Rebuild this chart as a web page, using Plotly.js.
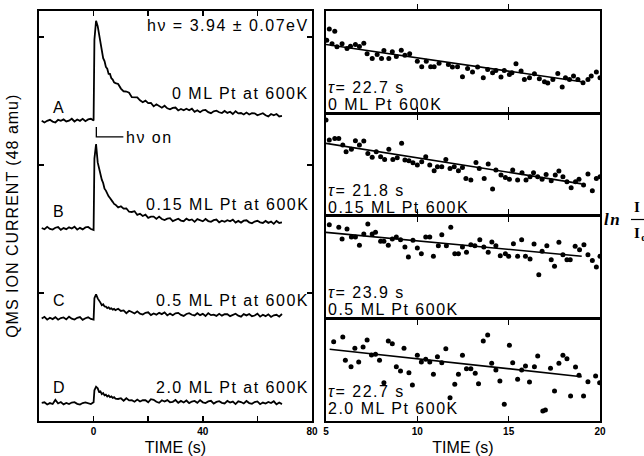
<!DOCTYPE html>
<html>
<head>
<meta charset="utf-8">
<script src="https://cdn.plot.ly/plotly-3.0.1.min.js"></script>
<style>
html,body{margin:0;padding:0;background:#fff;}
.annotation-text{letter-spacing:1.5px;}
.ytitle{letter-spacing:1px;}
</style>
</head>
<body>
<div id="chart" style="width:644px;height:456px;"></div>
<script>
// ---------- Left panel: QMS ion current (48 amu) vs time ----------
const timeLeft = [-19,-18,-17,-16,-15,-14,-13,-12,-11,-10,-9,-8,-7,-6,-5,-4,-3,-2,-1,0,
  0.3,0.9,1.5,2,2.5,3,3.5,4,4.5,5,5.5,6,6.5,7,7.5,8,
  9,10,11,12,13,14,15,16,17,18,19,20,21,22,23,24,25,26,27,28,29,30,31,32,33,34,35,36,37,38,39,
  40,41,42,43,44,45,46,47,48,49,50,51,52,53,54,55,56,57,58,59,60,61,62,63,64,65,66,67,68,69];

const currentA = [2.346,2.332,2.345,2.353,2.339,2.332,2.353,2.345,2.356,2.340,2.346,2.361,2.340,2.355,2.345,2.361,2.342,2.356,2.361,2.347,
  2.980,3.127,3.085,3.028,2.945,2.915,2.835,2.812,2.766,2.752,2.712,2.712,2.678,2.668,2.646,2.640,
  2.633,2.597,2.576,2.574,2.565,2.530,2.531,2.528,2.505,2.490,2.503,2.483,2.484,2.458,2.474,2.463,2.448,2.463,2.443,2.435,2.446,2.449,2.426,2.437,2.427,2.439,2.428,2.440,2.415,2.427,2.413,
  2.427,2.430,2.413,2.405,2.419,2.424,2.412,2.406,2.422,2.407,2.416,2.398,2.420,2.403,2.406,2.395,2.410,2.395,2.405,2.404,2.388,2.399,2.405,2.389,2.380,2.398,2.388,2.398,2.379,2.383];

const currentB = [1.508,1.498,1.517,1.501,1.496,1.510,1.515,1.494,1.507,1.499,1.513,1.504,1.518,1.495,1.509,1.497,1.512,1.516,1.500,1.493,
  2.050,2.164,2.020,1.970,1.925,1.885,1.860,1.815,1.800,1.772,1.755,1.742,1.722,1.712,1.696,1.690,
  1.668,1.678,1.659,1.660,1.635,1.633,1.639,1.610,1.619,1.602,1.612,1.587,1.596,1.597,1.579,1.597,1.578,1.570,1.581,1.585,1.562,1.574,1.580,1.566,1.561,1.581,1.568,1.575,1.556,1.577,1.570,
  1.560,1.578,1.562,1.556,1.569,1.574,1.552,1.565,1.556,1.569,1.560,1.573,1.550,1.563,1.550,1.565,1.568,1.552,1.544,1.558,1.564,1.552,1.547,1.563,1.548,1.558,1.540,1.563,1.547,1.551];

const currentC = [0.800,0.814,0.792,0.807,0.796,0.811,0.791,0.804,0.809,0.794,0.815,0.799,0.793,0.806,0.812,0.790,0.803,0.810,0.797,0.792,
  0.960,0.990,0.958,0.935,0.925,0.905,0.912,0.895,0.893,0.882,0.888,0.876,0.880,0.870,0.876,0.866,
  0.877,0.860,0.864,0.842,0.861,0.852,0.840,0.857,0.839,0.832,0.845,0.849,0.827,0.840,0.831,0.845,0.835,0.849,0.825,0.839,0.826,0.841,0.845,0.829,0.821,0.836,0.842,0.830,0.825,0.842,0.827,
  0.837,0.820,0.842,0.827,0.831,0.821,0.837,0.823,0.834,0.834,0.819,0.831,0.838,0.823,0.815,0.835,0.825,0.836,0.819,0.824,0.838,0.815,0.830,0.819,0.833,0.813,0.826,0.830,0.815,0.836];

const currentD = [0.142,0.146,0.129,0.140,0.133,0.165,0.137,0.148,0.130,0.141,0.132,0.144,0.147,0.134,0.128,0.140,0.145,0.136,0.132,0.146,
  0.240,0.268,0.255,0.228,0.232,0.210,0.218,0.200,0.206,0.192,0.199,0.186,0.192,0.180,0.186,0.175,
  0.172,0.178,0.158,0.178,0.161,0.163,0.151,0.167,0.152,0.162,0.162,0.146,0.170,0.166,0.150,0.142,0.162,0.152,0.163,0.146,0.150,0.164,0.142,0.157,0.145,0.160,0.140,0.152,0.157,0.142,0.163,
  0.146,0.140,0.153,0.158,0.136,0.149,0.155,0.142,0.137,0.157,0.144,0.152,0.132,0.154,0.148,0.137,0.156,0.140,0.134,0.148,0.153,0.131,0.144,0.136,0.149,0.140,0.154,0.130,0.144,0.132];

const traceLetters = ["A","B","C","D"];
const leftLabels = ["0 ML Pt at 600K","0.15 ML Pt at 600K","0.5 ML Pt at 600K","2.0 ML Pt at 600K"];
const leftTickVals = [0,40,80];
const leftMinorTickVals = [-20,20,60];

// ---------- Right panels: ln(I/I0) vs time ----------
const time1 = [5.04,5.18,5.33,5.48,5.60,5.88,6.15,6.34,6.61,6.83,7.07,7.25,7.53,7.80,8.04,8.17,8.44,8.63,8.85,9.12,9.32,9.58,10.00,10.24,10.49,10.73,10.92,11.19,11.70,11.92,12.20,12.47,12.75,13.02,13.30,13.61,13.85,14.12,14.30,14.58,14.76,15.04,15.18,15.40,15.68,15.86,16.14,16.41,16.68,16.96,17.14,17.42,17.69,17.93,18.11,18.33,18.55,18.79,19.07,19.34,19.52,19.80,20.0];
const lnRatio1 = [0.071,0.258,0.011,0.220,-0.038,0.011,-0.066,-0.027,0.0,-0.033,0.022,-0.154,-0.231,-0.165,-0.231,-0.099,-0.231,-0.121,-0.198,-0.093,-0.176,-0.154,-0.275,-0.368,-0.275,-0.368,-0.368,-0.308,-0.330,-0.374,-0.368,-0.533,-0.396,-0.456,-0.374,-0.549,-0.412,-0.467,-0.429,-0.538,-0.429,-0.495,-0.467,-0.319,-0.440,-0.577,-0.549,-0.484,-0.566,-0.615,-0.637,-0.577,-0.478,-0.703,-0.549,-0.577,-0.522,-0.577,-0.632,-0.577,-0.522,-0.456,-0.549];

const time2 = [5.0,5.18,5.48,5.70,5.92,6.10,6.39,6.61,6.83,7.07,7.29,7.53,7.75,7.99,8.21,8.44,8.66,8.90,9.14,9.32,9.54,9.76,10.0,10.24,10.46,10.68,10.92,11.10,11.34,11.56,11.79,12.02,12.25,12.47,12.66,12.93,13.21,13.39,13.66,13.88,14.12,14.30,14.58,14.82,15.04,15.22,15.49,15.73,15.95,16.17,16.36,16.59,16.83,17.05,17.33,17.55,17.75,17.97,18.19,18.42,18.66,18.85,19.10,19.34,19.58,19.80,20.0];
const lnRatio2 = [0.370,0.053,0.079,0.079,-0.026,-0.132,-0.095,0.042,-0.026,0.037,-0.159,-0.222,-0.132,-0.212,-0.254,-0.095,-0.254,-0.228,0.0,-0.265,-0.275,-0.307,-0.344,-0.291,-0.212,-0.344,-0.434,-0.370,-0.370,-0.254,-0.397,-0.370,-0.434,-0.381,-0.556,-0.582,-0.302,-0.397,-0.556,-0.328,-0.725,-0.423,-0.503,-0.540,-0.571,-0.423,-0.582,-0.466,-0.582,-0.529,-0.466,-0.529,-0.571,-0.492,-0.593,-0.503,-0.439,-0.529,-0.608,-0.704,-0.608,-0.571,-0.661,-0.487,-0.751,-0.556,-0.529];

const time3 = [5.18,5.70,5.88,6.15,6.39,6.61,6.83,7.07,7.29,7.53,7.71,7.99,8.17,8.41,8.63,8.85,9.08,9.32,9.51,9.76,10.0,10.22,10.46,10.68,10.88,11.15,11.34,11.59,11.83,12.05,12.25,12.47,12.69,12.93,13.15,13.42,13.64,13.88,14.08,14.30,14.54,14.82,15.0,15.26,15.49,15.71,15.92,16.17,16.39,16.65,16.83,17.09,17.33,17.51,17.75,17.97,18.19,18.37,18.64,18.88,19.12,19.34,19.58,19.80,20.0];
const lnRatio3 = [0.189,0.123,-0.164,0.082,-0.115,-0.115,-0.320,-0.041,0.205,-0.041,0.0,-0.221,-0.221,-0.320,-0.164,-0.115,-0.180,-0.361,-0.607,-0.197,-0.385,-0.525,-0.115,-0.115,-0.590,-0.328,-0.057,-0.328,0.123,-0.525,-0.525,-0.361,-0.492,-0.303,-0.328,-0.180,-0.361,-0.492,-0.238,-0.328,-0.574,-0.525,-0.590,-0.279,-0.590,-0.180,-0.590,-0.656,-0.287,-1.041,-0.467,-0.328,-0.672,-0.836,-0.246,-0.549,-0.672,-0.672,-0.344,-0.426,-0.303,-0.549,-0.689,-0.852,-0.590];

const time4 = [5.42,5.92,6.06,6.37,6.58,6.79,7.03,7.25,7.49,7.71,7.93,8.17,8.41,8.63,8.85,9.08,9.27,9.54,9.73,10.0,10.22,10.46,10.68,10.88,11.10,11.34,11.56,11.79,12.05,12.25,12.47,12.69,12.93,13.17,13.35,13.61,13.85,14.07,14.30,14.52,14.76,15.04,15.22,15.49,15.71,15.92,16.14,16.41,16.59,16.87,17.01,17.29,17.51,17.75,17.97,18.19,18.39,18.66,18.85,19.10,19.34,19.76,19.98];
const lnRatio4 = [0.170,0.274,-0.244,-0.385,0.022,-0.281,0.052,0.207,-0.126,-0.111,-0.244,-0.741,0.185,0.126,-0.385,-0.481,0.022,-0.519,-0.793,-0.133,-0.281,-0.222,-0.281,-0.556,-0.163,-0.296,0.015,-1.074,-0.778,-0.556,-0.133,-0.430,-0.430,-0.533,-0.763,0.185,0.319,-0.311,-0.459,-0.704,-1.222,0.089,-0.296,-0.667,-0.459,-0.370,-0.726,-0.385,-0.148,-1.370,-1.348,-0.422,-0.926,-0.311,-0.133,-0.207,-1.037,-0.393,-0.578,-1.037,-0.719,-0.593,-0.741];

// linear fits (tau values)
const tauValues = [22.7, 21.8, 23.9, 22.7];
const fitTime = [[5,19],[5,19],[5,19],[5.2,19]];
const fitLn = [[0,-0.617],[0,-0.642],[0,-0.586],[0,-0.608]];
const rightLabels = ["0 ML Pt 600K","0.15 ML Pt 600K","0.5 ML Pt 600K","2.0 ML Pt 600K"];
const rightTickVals = [5,10,15,20];

// ---------- Build figure ----------
const W = 644, H = 456;
const px = v => v / W;
const py = v => 1 - v / H;
const FONT = "Liberation Sans, Arial, sans-serif";

const traces = [];
[currentA, currentB, currentC, currentD].forEach(ys => {
  traces.push({x: timeLeft, y: ys, type: "scatter", mode: "lines",
    line: {color: "#000", width: 1.8}, xaxis: "x", yaxis: "y", hoverinfo: "skip"});
});
const rTimes = [time1, time2, time3, time4];
const rLn = [lnRatio1, lnRatio2, lnRatio3, lnRatio4];
for (let i = 0; i < 4; i++) {
  const ya = "y" + (i + 2);
  traces.push({x: rTimes[i], y: rLn[i], type: "scatter", mode: "markers",
    marker: {color: "#000", size: 5}, xaxis: "x2", yaxis: ya, hoverinfo: "skip"});
  traces.push({x: fitTime[i], y: fitLn[i], type: "scatter", mode: "lines",
    line: {color: "#000", width: 1.6}, xaxis: "x2", yaxis: ya, hoverinfo: "skip"});
}

const axisCommon = {showline: true, linecolor: "#000", linewidth: 2, showgrid: false, zeroline: false,
  ticks: "inside", ticklen: 5, tickwidth: 1.5, tickcolor: "#000"};

// right subpanel geometry (pixels)
const rTop = [10.5, 113.1, 215.75, 318.4];
const rBot = [113.1, 215.75, 318.4, 421];
const rRanges = [[-1.135, 0.563], [-1.148, 0.48], [-2.115, 0.408], [-1.593, 0.687]];

const layout = {
  width: W, height: H, margin: {l: 0, r: 0, t: 0, b: 0},
  paper_bgcolor: "#fff", plot_bgcolor: "#fff", showlegend: false,
  font: {family: FONT, color: "#000", size: 14},
  xaxis: Object.assign({}, axisCommon, {
    domain: [px(39), px(312)], range: [-20, 80], anchor: "y",
    tickmode: "array", tickvals: leftTickVals,
    minor: {tickmode: "array", tickvals: leftMinorTickVals, ticks: "inside", ticklen: 5, tickwidth: 1.5, tickcolor: "#000", showgrid: false},
    mirror: "allticks", tickfont: {family: FONT, size: 10, weight: "bold"},
    title: {text: "TIME (s)", font: {family: FONT, size: 16}, standoff: 8}
  }),
  yaxis: Object.assign({}, axisCommon, {
    domain: [py(421), py(10.5)], range: [0, 3.207], anchor: "x",
    tickmode: "array", tickvals: [0, 1, 2, 3], showticklabels: false, mirror: "allticks",
    title: {text: "QMS ION CURRENT (48 amu)", font: {family: FONT, size: 16}, standoff: 14}
  }),
  xaxis2: Object.assign({}, axisCommon, {
    domain: [px(326), px(600)], range: [5, 20], anchor: "y5", linewidth: 1.6,
    tickmode: "array", tickvals: rightTickVals, mirror: "allticks",
    tickfont: {family: FONT, size: 10, weight: "bold"},
    title: {text: "TIME (s)", font: {family: FONT, size: 16}, standoff: 8}
  }),
  annotations: [], shapes: []
};
for (let i = 0; i < 4; i++) {
  layout["yaxis" + (i + 2)] = {showline: true, linecolor: "#000", linewidth: 2, mirror: true,
    showgrid: false, zeroline: false, ticks: "", showticklabels: false,
    domain: [py(rBot[i]), py(rTop[i])], range: rRanges[i], anchor: "x2"};
}

function ann(text, x, y, xanchor, size, extra) {
  layout.annotations.push(Object.assign({text: text, x: px(x), y: py(y), xref: "paper", yref: "paper",
    xanchor: xanchor, yanchor: "middle", showarrow: false,
    font: {family: FONT, size: size, color: "#000"}}, extra || {}));
}
ann("h\u03bd = 3.94 \u00b1 0.07eV", 311, 25.5, "right", 16);
const leftLabelY = [93, 204, 300, 387];
const letterY = [107, 211, 300, 387];
for (let i = 0; i < 4; i++) {
  ann(leftLabels[i], 311, leftLabelY[i], "right", 16);
  ann(traceLetters[i], 59, letterY[i], "center", 16);
}
ann("h\u03bd on", 124, 137, "left", 16);
layout.shapes.push({type: "path", xref: "x", yref: "y", path: "M 1,2.297 L 1,2.219 L 10.9,2.219",
  line: {color: "#000", width: 1.3}});

const tauY = [87.5, 190.5, 292.5, 391.3];
const labY = [104.7, 207.7, 309.7, 408.3];
for (let i = 0; i < 4; i++) {
  ann("<i>\u03c4</i>= " + tauValues[i].toFixed(1) + " s", 326, tauY[i], "left", 16);
  ann(rightLabels[i], 326, labY[i], "left", 16);
}
// ln I/I0 label
const SERIF = "Liberation Serif, DejaVu Serif, serif";
layout.annotations.push({text: "<b><i>ln</i></b>", x: px(612), y: py(219), xref: "paper", yref: "paper",
  xanchor: "center", yanchor: "middle", showarrow: false, font: {family: SERIF, size: 17, color: "#000"}});
layout.annotations.push({text: "<b>I</b>", x: px(632), y: py(207), xref: "paper", yref: "paper",
  xanchor: "left", yanchor: "middle", showarrow: false, font: {family: SERIF, size: 15, color: "#000"}});
layout.annotations.push({text: "<b>I<sub>o</sub></b>", x: px(632), y: py(234), xref: "paper", yref: "paper",
  xanchor: "left", yanchor: "middle", showarrow: false, font: {family: SERIF, size: 15, color: "#000"}});
layout.shapes.push({type: "line", xref: "paper", yref: "paper", x0: px(631), x1: px(650), y0: py(219.5), y1: py(219.5),
  line: {color: "#000", width: 1.2}});

Plotly.newPlot("chart", traces, layout, {staticPlot: true, displayModeBar: false});
</script>
</body>
</html>
